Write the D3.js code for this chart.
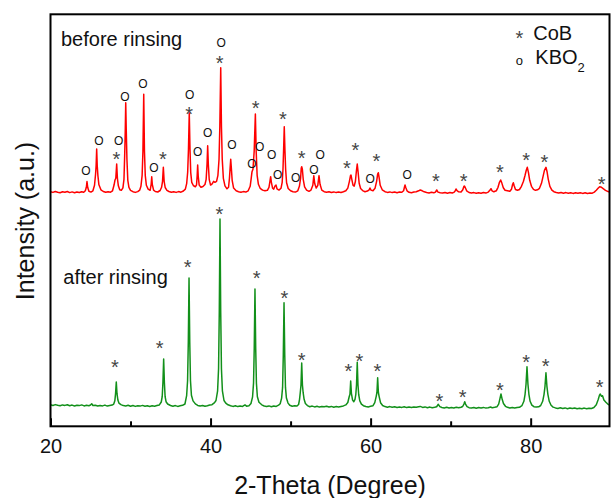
<!DOCTYPE html>
<html>
<head>
<meta charset="utf-8">
<script src="https://cdn.jsdelivr.net/npm/d3@7/dist/d3.min.js"></script>
<style>
  html, body { margin: 0; padding: 0; background: #fff; }
  svg { display: block; font-family: "Liberation Sans", Arial, sans-serif; }
</style>
</head>
<body>
<svg id="chart" width="611" height="498"></svg>
<script>
// XRD patterns of the CoB sample before and after rinsing.
// Each series is a list of [2-theta (deg), intensity (counts)] pairs.

const afterRinsing = [
  [20.0,215],[20.3,208],[20.6,217],[20.9,210],[21.2,205],[21.5,214],[21.8,209],[22.1,216],[22.4,206],[22.7,212],
  [23.0,203],[23.3,211],[23.6,207],[23.9,214],[24.2,204],[24.5,210],[24.8,206],[25.0,213],[25.15,226],[25.3,208],
  [25.6,211],[25.9,203],[26.2,209],[26.5,204],[26.8,212],[27.1,202],[27.4,208],[27.7,212],[27.9,222],[28.04,255],
  [28.13,326],[28.22,443],[28.31,326],[28.42,262],[28.55,232],[28.8,217],[29.1,207],[29.4,203],[29.7,210],[30.0,201],
  [30.3,208],[30.6,199],[30.9,206],[31.2,202],[31.5,209],[31.8,200],[32.1,205],[32.4,198],[32.7,206],[33.0,201],
  [33.3,208],[33.6,214],[33.84,243],[33.96,298],[34.05,439],[34.14,673],[34.23,439],[34.32,298],[34.44,246],[34.64,223],
  [35.0,208],[35.3,201],[35.6,207],[35.9,199],[36.2,205],[36.5,210],[36.8,223],[37.01,306],[37.13,458],[37.22,842],
  [37.31,1483],[37.40,842],[37.49,458],[37.61,310],[37.81,254],[38.1,224],[38.4,209],[38.7,203],[39.0,208],[39.3,200],
  [39.6,206],[39.9,213],[40.18,216],[40.5,236],[40.68,258],[40.88,355],[41.0,575],[41.09,1136],[41.18,2073],[41.27,1136],
  [41.36,575],[41.48,355],[41.68,258],[41.9,232],[42.18,215],[42.5,206],[42.8,199],[43.1,205],[43.4,197],[43.7,203],
  [44.0,199],[44.3,214],[44.5,201],[44.8,206],[45.05,228],[45.25,295],[45.37,432],[45.46,785],[45.55,1373],[45.64,785],
  [45.73,432],[45.85,295],[46.05,240],[46.4,215],[46.7,203],[47.0,198],[47.3,204],[47.6,196],[47.9,203],[48.2,199],
  [48.5,212],[48.7,226],[48.88,282],[49.0,389],[49.09,715],[49.18,1236],[49.27,715],[49.36,389],[49.48,282],[49.68,232],
  [49.9,210],[50.2,200],[50.5,205],[50.8,203],[51.0,218],[51.12,270],[51.21,336],[51.30,413],[51.39,633],[51.48,413],
  [51.57,336],[51.69,270],[51.85,228],[52.1,207],[52.4,196],[52.7,202],[53.0,194],[53.3,200],[53.6,192],[53.9,198],
  [54.2,195],[54.5,201],[54.8,193],[55.1,199],[55.4,191],[55.7,197],[56.0,193],[56.3,199],[56.6,204],[56.9,214],
  [57.15,238],[57.33,298],[57.42,320],[57.51,453],[57.6,330],[57.75,262],[57.9,246],[58.05,270],[58.15,318],[58.24,415],
  [58.33,640],[58.42,415],[58.51,318],[58.65,255],[58.85,222],[59.1,206],[59.4,198],[59.7,194],[60.0,200],[60.3,206],
  [60.52,236],[60.7,300],[60.79,338],[60.88,486],[60.97,338],[61.06,300],[61.24,236],[61.5,208],[61.8,197],[62.1,191],
  [62.4,197],[62.7,190],[63.0,195],[63.3,188],[63.6,194],[63.9,189],[64.2,196],[64.5,187],[64.8,193],[65.1,188],
  [65.4,194],[65.7,190],[66.0,196],[66.2,199],[66.5,189],[66.8,194],[67.1,186],[67.4,192],[67.7,185],[68.0,190],
  [68.25,196],[68.46,220],[68.65,197],[68.9,188],[69.2,184],[69.5,190],[69.8,183],[70.1,189],[70.4,184],[70.7,190],
  [71.0,185],[71.3,191],[71.5,198],[71.66,222],[71.76,246],[71.86,222],[72.05,196],[72.3,186],[72.6,182],[72.9,188],
  [73.2,181],[73.5,187],[73.8,183],[74.1,189],[74.4,182],[74.7,186],[75.0,193],[75.2,185],[75.5,190],[75.8,196],
  [76.0,222],[76.14,270],[76.29,323],[76.44,270],[76.6,228],[76.85,200],[77.1,190],[77.4,183],[77.7,188],[78.0,182],
  [78.3,187],[78.6,190],[78.9,206],[79.15,250],[79.3,320],[79.42,420],[79.54,596],[79.66,420],[79.78,320],[79.93,250],
  [80.15,212],[80.4,196],[80.7,192],[81.0,195],[81.25,208],[81.5,250],[81.67,320],[81.79,400],[81.91,536],[82.03,400],
  [82.15,320],[82.32,250],[82.55,210],[82.8,192],[83.1,184],[83.4,179],[83.7,185],[84.0,178],[84.3,184],[84.6,176],
  [84.9,182],[85.2,177],[85.5,183],[85.8,175],[86.1,181],[86.4,176],[86.7,182],[87.0,175],[87.3,181],[87.6,178],
  [87.9,188],[88.2,215],[88.45,270],[88.6,312],[88.7,323],[88.85,300],[88.98,305],[89.15,262],[89.4,240],[89.6,225],
  [89.85,212]
];

const beforeRinsing = [
  [20.0,196],[20.3,189],[20.6,198],[20.9,191],[21.2,186],[21.5,195],[21.8,190],[22.1,198],[22.4,187],[22.7,194],
  [23.0,185],[23.3,193],[23.6,188],[23.9,196],[24.15,190],[24.35,205],[24.48,240],[24.56,298],[24.65,238],[24.8,200],
  [25.05,192],[25.3,205],[25.5,260],[25.63,370],[25.70,455],[25.77,623],[25.84,455],[25.92,360],[26.05,265],[26.3,215],
  [26.6,198],[26.9,190],[27.2,196],[27.5,191],[27.75,205],[27.95,265],[28.06,313],[28.16,330],[28.27,473],[28.36,330],
  [28.48,255],[28.65,215],[28.85,210],[29.05,235],[29.18,320],[29.27,560],[29.34,800],[29.40,1086],[29.47,800],[29.55,520],
  [29.66,310],[29.8,240],[30.0,210],[30.3,196],[30.6,189],[30.9,197],[31.15,212],[31.3,250],[31.45,360],[31.55,600],
  [31.65,1170],[31.74,600],[31.84,360],[31.98,260],[32.2,222],[32.45,210],[32.58,270],[32.65,346],[32.72,268],[32.88,212],
  [33.1,198],[33.4,193],[33.7,208],[33.88,240],[34.0,300],[34.1,440],[34.2,300],[34.33,238],[34.55,210],[34.8,198],
  [35.1,190],[35.4,196],[35.7,189],[36.0,197],[36.3,191],[36.6,203],[36.85,222],[37.02,280],[37.14,390],[37.24,620],
  [37.34,986],[37.43,620],[37.52,390],[37.65,290],[37.85,258],[38.1,245],[38.25,265],[38.33,360],[38.39,463],[38.46,350],
  [38.58,262],[38.8,240],[39.05,248],[39.3,268],[39.45,320],[39.56,470],[39.64,656],[39.72,470],[39.83,320],[40.0,262],
  [40.2,275],[40.38,300],[40.55,290],[40.75,300],[40.92,360],[41.06,520],[41.16,850],[41.27,1436],[41.36,850],[41.46,520],
  [41.6,330],[41.8,255],[42.05,225],[42.25,240],[42.36,330],[42.45,440],[42.52,520],[42.6,430],[42.7,310],[42.88,232],
  [43.2,205],[43.5,196],[43.8,190],[44.1,197],[44.4,192],[44.7,205],[44.95,250],[45.08,330],[45.18,396],[45.3,420],
  [45.45,600],[45.6,973],[45.7,600],[45.82,360],[45.98,270],[46.2,230],[46.5,212],[46.8,205],[47.1,210],[47.3,240],
  [47.42,300],[47.51,346],[47.6,290],[47.75,232],[47.9,222],[48.05,253],[48.18,262],[48.3,225],[48.55,212],[48.8,230],
  [48.95,290],[49.05,420],[49.13,620],[49.21,846],[49.29,620],[49.38,420],[49.5,285],[49.7,228],[50.0,205],[50.3,196],
  [50.6,192],[50.9,205],[51.1,250],[51.25,330],[51.33,430],[51.39,446],[51.47,420],[51.58,320],[51.75,245],[52.0,212],
  [52.3,200],[52.55,212],[52.78,260],[52.9,356],[53.02,275],[53.2,232],[53.4,260],[53.55,356],[53.68,270],[53.9,212],
  [54.2,196],[54.5,190],[54.8,195],[55.1,188],[55.4,194],[55.7,187],[56.0,193],[56.3,188],[56.6,196],[56.9,205],
  [57.15,232],[57.35,300],[57.48,355],[57.55,363],[57.65,320],[57.8,262],[57.95,252],[58.1,300],[58.22,400],[58.33,473],
  [58.44,390],[58.57,280],[58.75,228],[59.0,207],[59.3,196],[59.6,202],[59.82,215],[59.92,233],[60.05,212],[60.3,205],
  [60.55,230],[60.75,300],[60.88,372],[60.96,386],[61.06,340],[61.2,260],[61.45,215],[61.8,196],[62.1,189],[62.4,194],
  [62.7,187],[63.0,193],[63.3,186],[63.6,192],[63.9,190],[64.12,205],[64.24,245],[64.3,263],[64.38,240],[64.55,205],
  [64.8,190],[65.1,186],[65.4,192],[65.7,196],[66.0,205],[66.2,213],[66.45,205],[66.7,195],[67.0,188],[67.3,184],
  [67.6,190],[67.9,185],[68.1,192],[68.26,213],[68.42,192],[68.7,185],[69.0,182],[69.3,188],[69.6,181],[69.9,187],
  [70.2,183],[70.45,192],[70.58,205],[70.67,223],[70.8,206],[71.0,195],[71.3,193],[71.52,215],[71.64,245],[71.71,253],
  [71.82,238],[72.0,205],[72.3,188],[72.6,182],[72.9,187],[73.2,180],[73.5,186],[73.8,181],[74.1,187],[74.4,182],
  [74.7,192],[74.9,210],[75.04,226],[75.18,205],[75.4,195],[75.7,205],[75.92,240],[76.1,290],[76.25,313],[76.4,282],
  [76.58,235],[76.8,210],[77.1,205],[77.4,200],[77.6,220],[77.74,268],[77.83,286],[77.94,255],[78.1,218],[78.35,210],
  [78.6,218],[78.85,250],[79.1,300],[79.3,360],[79.45,410],[79.58,440],[79.72,390],[79.88,310],[80.1,250],[80.35,220],
  [80.6,210],[80.85,215],[81.1,230],[81.35,280],[81.55,350],[81.72,410],[81.91,440],[82.05,395],[82.2,320],[82.4,250],
  [82.65,212],[82.9,196],[83.2,188],[83.5,182],[83.8,188],[84.1,181],[84.4,187],[84.7,180],[85.0,186],[85.3,179],
  [85.6,185],[85.9,180],[86.2,186],[86.5,179],[86.8,185],[87.1,178],[87.4,184],[87.7,181],[87.95,192],[88.2,210],
  [88.45,232],[88.62,246],[88.75,244],[88.9,236],[89.1,225],[89.35,210],[89.6,200],[89.85,192]
];

// vertical shift that stacks the "before" pattern above the "after" one
const beforeOffset = 2150;

// phase markers: [2-theta, intensity level, phase]  ("*" = CoB, "O" = KBO2)
const beforeMarks = [
  [24.44,403,"O"],[26.06,710,"O"],[28.22,565,"*"],[28.52,705,"O"],[29.31,1146,"O"],[31.56,1280,"O"],
  [32.93,440,"O"],[34.06,566,"*"],[37.31,1020,"*"],[37.39,1170,"O"],[38.39,593,"O"],[39.64,790,"O"],
  [41.14,1526,"*"],[41.34,1690,"O"],[42.68,663,"O"],[45.18,476,"O"],[45.64,1076,"*"],[46.14,646,"O"],
  [47.64,570,"O"],[48.39,370,"O"],[49.05,970,"*"],[50.64,333,"O"],[51.39,576,"*"],[52.93,416,"O"],
  [53.71,563,"O"],[57.05,480,"*"],[58.09,653,"*"],[59.96,330,"O"],[60.71,546,"*"],[64.58,366,"O"],
  [68.17,346,"*"],[71.63,346,"*"],[76.17,433,"*"],[79.42,560,"*"],[81.70,533,"*"],[88.87,313,"*"]
];
const afterMarks = [
  [28.06,636],[33.64,830],[37.14,1636],[41.09,2170],[45.77,1523],[49.22,1330],[51.39,706],
  [57.21,596],[58.59,696],[60.84,596],[68.58,296],[71.50,336],[76.17,410],[79.45,683],[81.88,646],[88.62,433]
];

const majorTicks = [20, 40, 60, 80];
const minorTicks = [30, 50, 70];
const xTitle = "2-Theta (Degree)";
const yTitle = "Intensity (a.u.)";

const svg = d3.select("#chart");
const plotL = 50.5, plotR = 609.5, plotT = 14.3, plotB = 426.3;

const x = d3.scaleLinear().domain([20, 89.85]).range([plotL, plotR]);
const y = d3.scaleLinear().domain([0, 4120]).range([plotB, plotT]);

const line = d3.line().x(d => x(d[0])).y(d => y(d[1]));

svg.append("defs").append("clipPath").attr("id", "plot-clip")
  .append("rect").attr("x", plotL).attr("y", plotT).attr("width", plotR - plotL).attr("height", plotB - plotT);

const traces = svg.append("g").attr("clip-path", "url(#plot-clip)");
traces.append("path")
  .datum(afterRinsing)
  .attr("fill", "none").attr("stroke", "#12901a").attr("stroke-width", 1.5)
  .attr("stroke-linejoin", "round")
  .attr("d", line);
traces.append("path")
  .datum(beforeRinsing.map(d => [d[0], d[1] + beforeOffset]))
  .attr("fill", "none").attr("stroke", "#ff0000").attr("stroke-width", 1.5)
  .attr("stroke-linejoin", "round")
  .attr("d", line);

// marker glyphs, centred on their points
const STAR_SIZE = 20, O_SIZE = 12;
function star(g, px, py) {
  g.append("text").attr("x", px).attr("y", py + STAR_SIZE * 0.57)
    .attr("text-anchor", "middle").attr("font-size", STAR_SIZE).attr("fill", "#454545").text("*");
}
function ring(g, px, py, size) {
  g.append("text").attr("x", px).attr("y", py + size * 0.36)
    .attr("text-anchor", "middle").attr("font-size", size).attr("fill", "#111").text("O");
}
const marks = svg.append("g");
beforeMarks.forEach(([t, v, p]) => {
  const px = x(t), py = y(v + beforeOffset);
  if (p === "*") star(marks, px, py); else ring(marks, px, py, O_SIZE);
});
afterMarks.forEach(([t, v]) => star(marks, x(t), y(v)));

// frame
svg.append("rect")
  .attr("x", plotL).attr("y", plotT).attr("width", plotR - plotL).attr("height", plotB - plotT)
  .attr("fill", "none").attr("stroke", "#000").attr("stroke-width", 2);

// bottom axis: inward ticks, labels on major ticks only
const axisMajor = d3.axisBottom(x).tickValues(majorTicks).tickSize(-8).tickPadding(12.5).tickFormat(d3.format("d"));
const gx = svg.append("g").attr("transform", `translate(0,${plotB})`).call(axisMajor);
gx.select(".domain").remove();
gx.selectAll(".tick line").attr("stroke", "#000").attr("stroke-width", 2);
gx.selectAll(".tick text").attr("font-size", 20).attr("font-family", "Liberation Sans, Arial, sans-serif").attr("fill", "#111");

const axisMinor = d3.axisBottom(x).tickValues(minorTicks).tickSize(-5).tickFormat("");
const gm = svg.append("g").attr("transform", `translate(0,${plotB})`).call(axisMinor);
gm.select(".domain").remove();
gm.selectAll(".tick line").attr("stroke", "#000").attr("stroke-width", 2);

// axis titles
svg.append("text").attr("x", (plotL + plotR) / 2).attr("y", 494)
  .attr("text-anchor", "middle").attr("font-size", 25).attr("fill", "#111").text(xTitle);
svg.append("text").attr("transform", `translate(34,${221}) rotate(-90)`)
  .attr("text-anchor", "middle").attr("font-size", 25).attr("fill", "#111").text(yTitle);

// series labels
svg.append("text").attr("x", 61).attr("y", 45.7).attr("font-size", 20).attr("fill", "#111").text("before rinsing");
svg.append("text").attr("x", 63.3).attr("y", 284).attr("font-size", 20).attr("fill", "#111").text("after rinsing");

// legend
const lg = svg.append("g");
star(lg, 519.3, 33.3);
lg.append("text").attr("x", 533.3).attr("y", 39.5).attr("font-size", 20).attr("fill", "#111").text("CoB");
lg.append("text").attr("x", 519.3).attr("y", 62 + 13 * 0.26).attr("text-anchor", "middle")
  .attr("font-size", 13).attr("fill", "#111").text("o");
const kbo = lg.append("text").attr("x", 535.3).attr("y", 64).attr("font-size", 20).attr("fill", "#111");
kbo.append("tspan").text("KBO");
kbo.append("tspan").attr("font-size", 13).attr("dy", 8).text("2");
</script>
</body>
</html>
